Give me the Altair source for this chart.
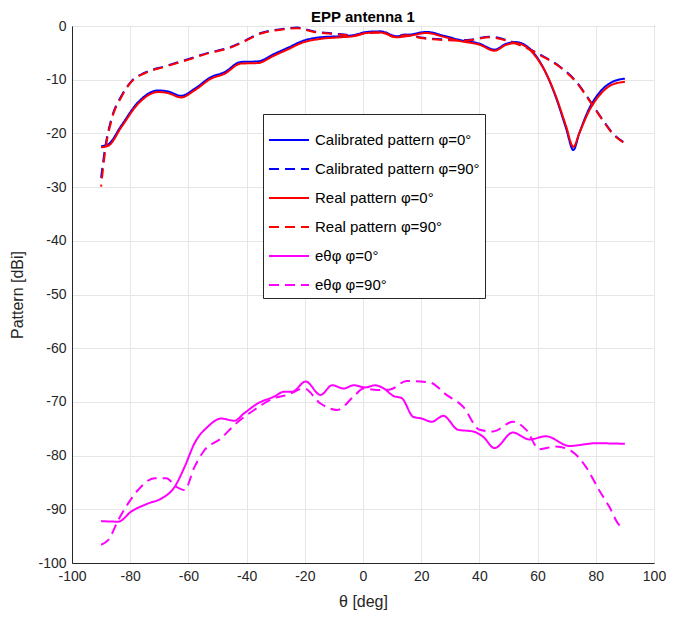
import altair as alt
import pandas as pd

# ---- data ----
theta_0 = [-90, -87.5, -83, -77.3, -70.4, -67, -62.5, -57.9, -52.2, -47.6, -42, -36.2, -30.5, -26,
           -20.3, -14.6, -7.8, -3.2, 1.4, 5.9, 11.6, 16.2, 21.9, 27.6, 33.3, 40.1, 45.2, 49.2, 52.6,
           56.1, 59.5, 62.9, 66.3, 69.7, 72.3, 74.3, 77.7, 81.1, 85.7, 90]
cal_0 = [-22.4, -22.0, -18.5, -14.2, -12.0, -12.2, -13.0, -11.7, -9.5, -8.6, -6.7, -6.6, -5.2, -4.1,
         -2.7, -2.1, -1.9, -1.7, -1.1, -1.0, -1.9, -1.6, -1.1, -1.8, -2.6, -3.3, -4.4, -3.3, -3.0,
         -3.7, -5.6, -8.8, -13.3, -18.9, -23.1, -20.0, -15.4, -12.5, -10.4, -9.8]
real_0 = [-22.6, -22.3, -18.8, -14.5, -12.3, -12.5, -13.3, -12.0, -9.8, -8.9, -7.0, -6.9, -5.5, -4.4,
          -3.0, -2.4, -2.1, -1.9, -1.3, -1.2, -2.1, -1.8, -1.3, -2.0, -2.8, -3.5, -4.6, -3.5, -3.2,
          -3.9, -5.8, -8.8, -13.1, -18.5, -22.5, -20.0, -15.8, -13.0, -10.9, -10.4]

theta_90 = [-90, -88.7, -86.4, -83, -79.6, -75, -68.1, -60.2, -53.3, -46.5, -40.8, -35.1, -28.3,
            -22.6, -16.9, -10, -3.2, 1.4, 7.1, 10.5, 14.5, 20.7, 27.6, 35.6, 43.5, 49.2, 54.9, 61.8,
            67.5, 73.2, 77.7, 82.3, 85.7, 90]
cal_90 = [-28.3, -23.0, -17.2, -13.0, -10.3, -8.7, -7.5, -6.2, -5.0, -4.1, -2.8, -1.3, -0.6, -0.3,
          -1.0, -1.4, -1.7, -1.2, -1.1, -1.9, -1.6, -2.2, -2.5, -2.6, -2.0, -2.6, -3.7, -5.6, -7.5,
          -10.3, -13.7, -17.4, -19.9, -21.8]
real_90 = [-29.9, -23.7, -17.5, -13.2, -10.4, -8.8, -7.6, -6.3, -5.1, -4.2, -2.9, -1.4, -0.7, -0.4,
           -1.1, -1.5, -1.8, -1.3, -1.2, -2.0, -1.7, -2.3, -2.6, -2.7, -2.1, -2.7, -3.8, -5.7, -7.6,
           -10.4, -13.8, -17.5, -20.0, -21.9]

theta_e0 = [-90, -84.1, -79.6, -73.8, -69.3, -64.7, -61.3, -57.9, -53.3, -48.8, -44.2, -40.8, -36.2,
            -30.5, -27.1, -24.3, -19.7, -14.6, -10.6, -6.6, -3.2, 0.8, 4.2, 7.1, 10.5, 13.3, 17.3,
            20.2, 23.6, 27.6, 32.7, 37.8, 41.3, 45.2, 51.5, 57.2, 62.9, 70.9, 80, 90]
e_0 = [-92.2, -92.3, -90.4, -88.9, -88.0, -85.8, -82.1, -77.7, -74.6, -73.1, -73.5, -72.1, -70.3,
       -69.0, -68.1, -68.1, -66.2, -68.7, -66.9, -67.5, -66.9, -67.3, -66.9, -67.5, -68.9, -69.3,
       -72.8, -73.1, -73.7, -72.6, -75.2, -75.5, -76.5, -78.6, -75.7, -77.0, -76.4, -78.2, -77.7,
       -77.8]

theta_e90 = [-90, -87.5, -84.1, -80.7, -77.3, -71.6, -67.6, -64.2, -61.3, -57.9, -54.5, -48.8, -44.2,
             -37.4, -30.5, -26, -20.3, -14.6, -8.9, -3.2, 0.2, 4.8, 9.3, 15.0, 23.0, 28.7, 34.4,
             40.1, 44.7, 51.5, 56.1, 60.6, 66.3, 72.0, 76.6, 81.1, 84.6, 88.0, 89.5]
e_90 = [-96.6, -95.7, -92.0, -88.9, -86.4, -84.2, -84.2, -85.8, -86.4, -82.1, -79.0, -76.8, -74.3,
        -71.5, -69.3, -68.7, -67.5, -70.3, -71.5, -69.0, -67.5, -67.8, -67.7, -66.1, -66.4, -68.7,
        -70.9, -75.2, -75.5, -73.7, -75.2, -78.8, -78.3, -79.3, -82.1, -86.4, -89.5, -92.9, -93.5]

labels = ["Calibrated pattern \u03c6=0\u00b0", "Calibrated pattern \u03c6=90\u00b0",
          "Real pattern \u03c6=0\u00b0", "Real pattern \u03c6=90\u00b0",
          "e\u03b8\u03c6  \u03c6=0\u00b0", "e\u03b8\u03c6  \u03c6=90\u00b0"]
colors = ["#0000ff", "#0000ff", "#ff0000", "#ff0000", "#ff00ff", "#ff00ff"]
dashes = [[1, 0], [10, 6], [1, 0], [10, 6], [1, 0], [10, 6]]
series_data = [(theta_0, cal_0), (theta_90, cal_90), (theta_0, real_0), (theta_90, real_90),
               (theta_e0, e_0), (theta_e90, e_90)]
dash_offsets = [0, 0, 0, 8, 0, 0]

x_ticks = list(range(-100, 101, 20))
y_ticks = list(range(-100, 1, 10))

rows = []
for lab, (xs, ys) in zip(labels, series_data):
    for xv, yv in zip(xs, ys):
        rows.append({"theta": xv, "value": yv, "series": lab})
df = pd.DataFrame(rows)

FONT = "Liberation Sans"
leg = alt.Legend(orient="none", legendX=191, legendY=88, title=None, symbolType="stroke",
                 symbolSize=1600, symbolStrokeWidth=2, labelFont=FONT, labelFontSize=15,
                 labelColor="#000000", fillColor="white", strokeColor="#262626", padding=5,
                 rowPadding=-1, labelLimit=400, cornerRadius=0, labelOffset=5)

x_enc = alt.X("theta:Q", scale=alt.Scale(domain=[-100, 100], nice=False),
              axis=alt.Axis(values=x_ticks, title="\u03b8 [deg]", labelFlush=False,
                            labelExpr="datum.value + ''"))
y_enc = alt.Y("value:Q", scale=alt.Scale(domain=[-100, 0], nice=False),
              axis=alt.Axis(values=y_ticks, title="Pattern [dBi]", labelFlush=False,
                            labelExpr="datum.value + ''"))
color_enc = alt.Color("series:N", scale=alt.Scale(domain=labels, range=colors), legend=leg)
dash_enc = alt.StrokeDash("series:N", scale=alt.Scale(domain=labels, range=dashes), legend=leg)

layers = []
for lab, off in zip(labels, dash_offsets):
    layers.append(
        alt.Chart(df).transform_filter(alt.datum.series == lab)
        .mark_line(strokeWidth=2, interpolate="monotone", strokeDashOffset=off)
        .encode(x=x_enc, y=y_enc, color=color_enc, strokeDash=dash_enc)
    )

chart = alt.layer(*layers).properties(
    width=582, height=537,
    title=alt.Title("EPP antenna 1", font=FONT, fontSize=15, fontWeight="bold",
                    color="#000000", anchor="middle", offset=0, dy=6),
    autosize=alt.AutoSizeParams(type="none"),
    padding={"left": 64, "top": 18, "right": 12, "bottom": 57},
).configure_view(
    stroke="#262626", strokeWidth=1
).configure_axis(
    labelFont=FONT, labelFontSize=14, labelColor="#262626", titleFont=FONT,
    titleFontSize=16, titleFontWeight="normal", titleColor="#262626",
    gridColor="#e6e6e6", gridWidth=1, domainColor="#262626", tickSize=0,
    labelPadding=6, titlePadding=10
).configure_axisY(titlePadding=12)

chart.save("out.html", embed_options={"renderer": "svg", "actions": False})
